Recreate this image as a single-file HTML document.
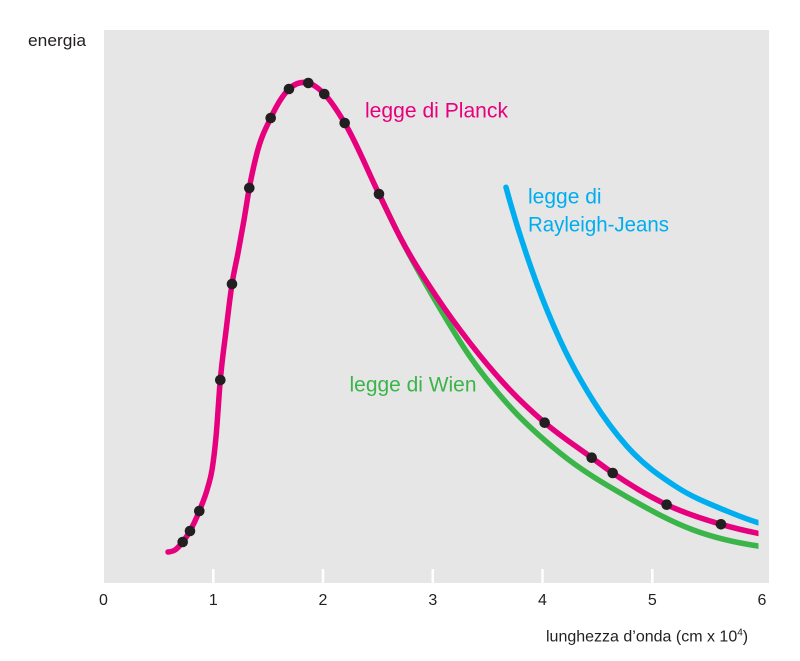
<!DOCTYPE html>
<html>
<head>
<meta charset="utf-8">
<style>
  html, body { margin: 0; padding: 0; background: #ffffff; }
  svg { display: block; }
  text { font-family: "Liberation Sans", sans-serif; }
</style>
</head>
<body>
<svg width="800" height="661" viewBox="0 0 800 661" xmlns="http://www.w3.org/2000/svg">
  <defs>
    <clipPath id="pc">
      <rect x="104" y="30" width="654.5" height="553"/>
    </clipPath>
  </defs>
  <rect x="0" y="0" width="800" height="661" fill="#ffffff"/>
  <!-- plot area -->
  <rect x="104" y="30" width="665" height="553" fill="#e6e6e6"/>

  <!-- ticks -->
  <g stroke="#ffffff" stroke-width="2.5">
    <line x1="213.3" y1="569" x2="213.3" y2="583"/>
    <line x1="323" y1="569" x2="323" y2="583"/>
    <line x1="432.8" y1="569" x2="432.8" y2="583"/>
    <line x1="542.5" y1="569" x2="542.5" y2="583"/>
    <line x1="652.3" y1="569" x2="652.3" y2="583"/>
  </g>

  <g clip-path="url(#pc)" fill="none" stroke-width="5.5" stroke-linecap="round" stroke-linejoin="round">
    <!-- Rayleigh-Jeans -->
    <path stroke="#00aeef" d="M506,187.3 C516.23,225.16 526.47,255.55 536.7,283.5 C544.47,304.71 552.23,323.06 560,340 C571.1,364.21 582.2,383.35 593.3,401 C604.43,418.7 615.57,433.35 626.7,446 C643.37,464.93 660.03,476.17 676.7,487 C693.37,497.83 710.03,504.12 726.7,511 C737.23,515.35 747.77,519.54 758.3,522.7 L765,524.7"/>
    <!-- Wien -->
    <path stroke="#3bb54a" d="M379,194 C386,208.39 393,223.3 400,237 C412.23,260.94 424.47,282.19 436.7,303 C447.8,321.88 458.9,340.63 470,356.7 C483.33,376.01 496.67,391.95 510,406.7 C526.67,425.13 543.33,439.5 560,453 C582.23,471.01 604.47,483.87 626.7,496.7 C648.9,509.51 671.1,521.74 693.3,530 C714.87,538.02 736.43,542.76 758,546 L765,547"/>
    <!-- Planck -->
    <path stroke="#e6007e" d="M168,552 C170.33,551.77 172.67,551.5 175,550 C177.57,548.34 180.13,545.28 182.7,542 C185.13,538.89 187.57,535.36 190,531 C193.1,525.45 196.2,518.7 199.3,511 C202.2,503.8 205.1,497.55 208,486.7 C209.33,481.71 210.67,478.28 212,470 C213.33,461.72 214.67,451.21 216,437 C217.43,421.72 218.87,396.12 220.3,380 C222.2,358.63 224.1,346.62 226,331 C228,314.56 230,297 232,284 C234,271 236,263.66 238,253 C240,242.34 242,231.57 244,220 C245.77,209.78 247.53,197.59 249.3,188 C251.87,174.06 254.43,162.83 257,153 C261.57,135.51 266.13,127.77 270.7,118 C276.8,104.95 282.9,94.89 289,89 C295.43,82.79 301.87,81.49 308.3,83 C313.63,84.25 318.97,88.61 324.3,94 C331.1,100.87 337.9,111.68 344.7,123 C356.13,142.02 367.57,170.49 379,194 C386,208.39 393,223.71 400,237 C412.23,260.22 424.47,278.63 436.7,297 C447.8,313.67 458.9,328.71 470,343 C483.33,360.16 496.67,376 510,390 C521.57,402.15 533.13,412.78 544.7,422.7 C560.37,436.14 576.03,446.2 591.7,457.7 C598.7,462.84 605.7,468.18 612.7,473 C630.7,485.4 648.7,496.17 666.7,504.7 C684.8,513.28 702.9,519.03 721,524.3 C733.33,527.89 745.67,530.83 758,533.3 L765,534.7"/>
  </g>

  <!-- data points -->
  <g fill="#231f20">
    <circle cx="182.7" cy="542" r="5.3"/>
    <circle cx="190" cy="531" r="5.3"/>
    <circle cx="199.3" cy="511" r="5.3"/>
    <circle cx="220.3" cy="380" r="5.3"/>
    <circle cx="232" cy="284" r="5.3"/>
    <circle cx="249.3" cy="188" r="5.3"/>
    <circle cx="270.7" cy="118" r="5.3"/>
    <circle cx="289" cy="89" r="5.3"/>
    <circle cx="308.3" cy="83" r="5.3"/>
    <circle cx="324.3" cy="94" r="5.3"/>
    <circle cx="344.7" cy="123" r="5.3"/>
    <circle cx="379" cy="194" r="5.3"/>
    <circle cx="544.7" cy="422.7" r="5.3"/>
    <circle cx="591.7" cy="457.7" r="5.3"/>
    <circle cx="612.7" cy="473" r="5.3"/>
    <circle cx="666.7" cy="504.7" r="5.3"/>
    <circle cx="721" cy="524.3" r="5.3"/>
  </g>

  <!-- series labels -->
  <text x="365" y="117.5" font-size="21" fill="#e6007e" textLength="143" lengthAdjust="spacingAndGlyphs">legge di Planck</text>
  <text x="528" y="203.5" font-size="21" fill="#00aeef">legge di</text>
  <text x="528" y="231.5" font-size="21" fill="#00aeef" textLength="141" lengthAdjust="spacingAndGlyphs">Rayleigh-Jeans</text>
  <text x="349.5" y="391.5" font-size="21" fill="#3bb54a" textLength="127" lengthAdjust="spacingAndGlyphs">legge di Wien</text>

  <!-- axis labels -->
  <text x="28" y="46" font-size="17" fill="#231f20" textLength="58" lengthAdjust="spacingAndGlyphs">energia</text>

  <g font-size="16" fill="#231f20" text-anchor="middle">
    <text x="103.5" y="605">0</text>
    <text x="213.3" y="605">1</text>
    <text x="323" y="605">2</text>
    <text x="432.8" y="605">3</text>
    <text x="542.5" y="605">4</text>
    <text x="652.3" y="605">5</text>
    <text x="762" y="605">6</text>
  </g>

  <text x="546" y="641.5" font-size="16" fill="#231f20">lunghezza d’onda (cm x 10<tspan font-size="10" dy="-6">4</tspan><tspan dy="6">)</tspan></text>
</svg>
</body>
</html>
